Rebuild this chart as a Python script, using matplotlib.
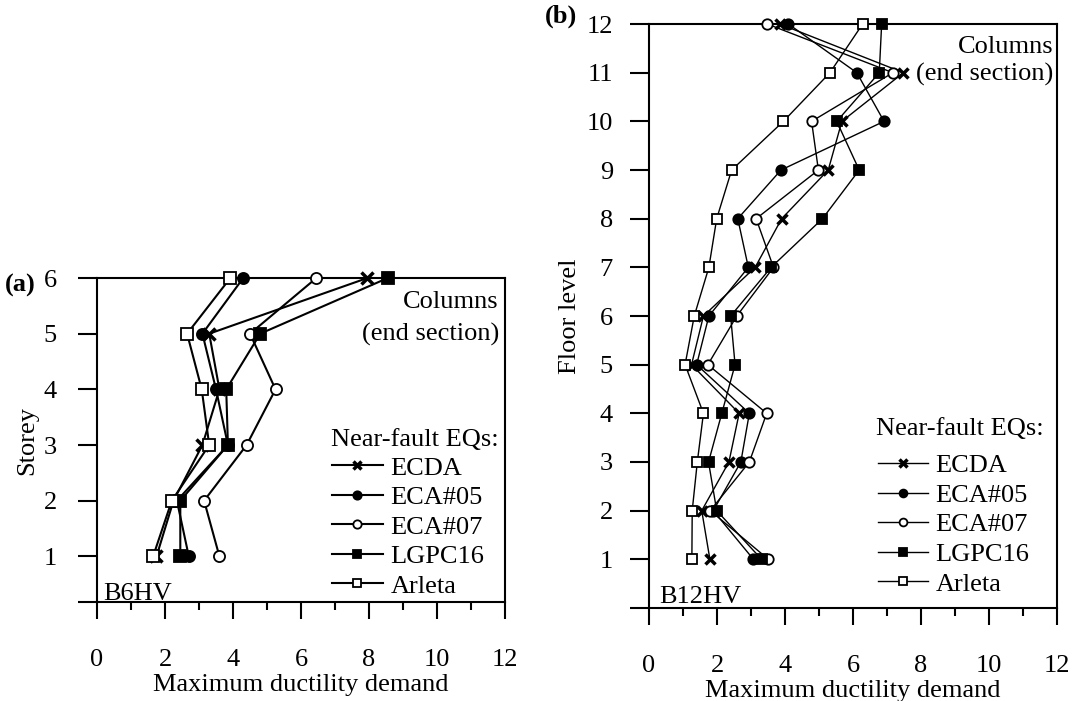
import matplotlib.pyplot as plt
import numpy as np

plt.rcParams['font.family'] = ['Liberation Serif', 'DejaVu Serif']
plt.rcParams['font.size'] = 19

names = ['ECDA', 'ECA#05', 'ECA#07', 'LGPC16', 'Arleta']
markers = ['x', 'o', 'o', 's', 's']
faces = ['k', 'k', 'w', 'k', 'w']

# (a) B6HV, storeys 1..6
storey = [1, 2, 3, 4, 5, 6]
b6_ecda = [1.75, 2.25, 3.1, 3.6, 3.3, 7.95]
b6_eca05 = [2.7, 2.35, 3.85, 3.5, 3.1, 4.3]
b6_eca07 = [3.6, 3.15, 4.4, 5.25, 4.5, 6.45]
b6_lgpc16 = [2.45, 2.45, 3.85, 3.8, 4.8, 8.55]
b6_arleta = [1.65, 2.2, 3.3, 3.08, 2.65, 3.92]

# (b) B12HV, floors 1..12
floor = list(range(1, 13))
b12_ecda = [1.79, 1.55, 2.35, 2.65, 1.25, 1.6, 3.12, 3.9, 5.27, 5.67, 7.48, 3.85]
b12_eca05 = [3.07, 1.89, 2.7, 2.95, 1.4, 1.76, 2.92, 2.61, 3.88, 6.91, 6.11, 4.1]
b12_eca07 = [3.51, 1.8, 2.95, 3.46, 1.73, 2.58, 3.66, 3.15, 4.98, 4.78, 7.17, 3.48]
b12_lgpc16 = [3.31, 1.99, 1.75, 2.14, 2.53, 2.4, 3.59, 5.1, 6.18, 5.52, 6.77, 6.84]
b12_arleta = [1.26, 1.27, 1.42, 1.6, 1.06, 1.33, 1.76, 1.99, 2.43, 3.95, 5.32, 6.28]

fig = plt.figure(figsize=(10.74, 7.01), dpi=100)
ax1 = fig.add_axes([0.0903, 0.1412, 0.380, 0.4622])
ax2 = fig.add_axes([0.6043, 0.1327, 0.380, 0.833])


def draw(ax, levels, series, lw, ms, ypad):
    for vals, n, m, fc in zip(series, names, markers, faces):
        mew = 2.5 if m == 'x' else 1.3
        ax.plot(vals, levels, color='k', lw=lw, marker=m, ms=ms,
                mfc=fc, mec='k', mew=mew, label=n, clip_on=False, zorder=3)
    ax.set_xlim(0, 12)
    ax.set_xticks(np.arange(0, 13, 2))
    ax.set_xticks(np.arange(1, 12, 2), minor=True)
    ax.tick_params(axis='x', which='major', direction='out', length=12, width=1.5, pad=22)
    ax.tick_params(axis='x', which='minor', direction='out', length=6, width=1.5)
    ax.tick_params(axis='y', direction='out', length=14, width=1.5, pad=ypad)
    for s in ax.spines.values():
        s.set_linewidth(1.5)
    ax.set_xlabel('Maximum ductility demand', labelpad=2)


def legend_block(ax, x, ytitle, ytop):
    # title as plain text, entries as a legend below it
    ax.text(x, ytitle, 'Near-fault EQs:', transform=ax.transAxes, ha='left', va='center')
    ax.legend(loc='upper left', bbox_to_anchor=(x - 0.022, ytop), frameon=False,
              handlelength=1.9, handletextpad=0.3, labelspacing=0.23,
              borderaxespad=0, markerscale=0.75)


draw(ax1, storey, [b6_ecda, b6_eca05, b6_eca07, b6_lgpc16, b6_arleta], 1.5, 8, 15)
ax1.set_ylim(0.18, 6)
ax1.set_yticks([0.18] + storey)
ax1.set_yticklabels([''] + [str(s) for s in storey])
ax1.set_ylabel('Storey', labelpad=4)
ax1.text(0.985, 0.925, 'Columns', transform=ax1.transAxes, ha='right', va='center')
ax1.text(0.985, 0.825, '(end section)', transform=ax1.transAxes, ha='right', va='center')
ax1.text(0.015, 0.025, 'B6HV', transform=ax1.transAxes, ha='left', va='center')
legend_block(ax1, 0.573, 0.5, 0.483)

draw(ax2, floor, [b12_ecda, b12_eca05, b12_eca07, b12_lgpc16, b12_arleta], 1.0, 7.5, 12)
ax2.set_ylim(0, 12)
ax2.set_yticks([0] + floor)
ax2.set_yticklabels([''] + [str(f) for f in floor])
ax2.set_ylabel('Floor level', labelpad=4)
ax2.text(0.99, 0.961, 'Columns', transform=ax2.transAxes, ha='right', va='center')
ax2.text(0.99, 0.913, '(end section)', transform=ax2.transAxes, ha='right', va='center')
ax2.text(0.025, 0.018, 'B12HV', transform=ax2.transAxes, ha='left', va='center')
legend_block(ax2, 0.556, 0.307, 0.282)

fig.text(5 / 1074, 1 - 285 / 701, '(a)', weight='bold', ha='left', va='center')
fig.text(545 / 1074, 1 - 16 / 701, '(b)', weight='bold', ha='left', va='center')

fig.savefig('out.png', dpi=100)
